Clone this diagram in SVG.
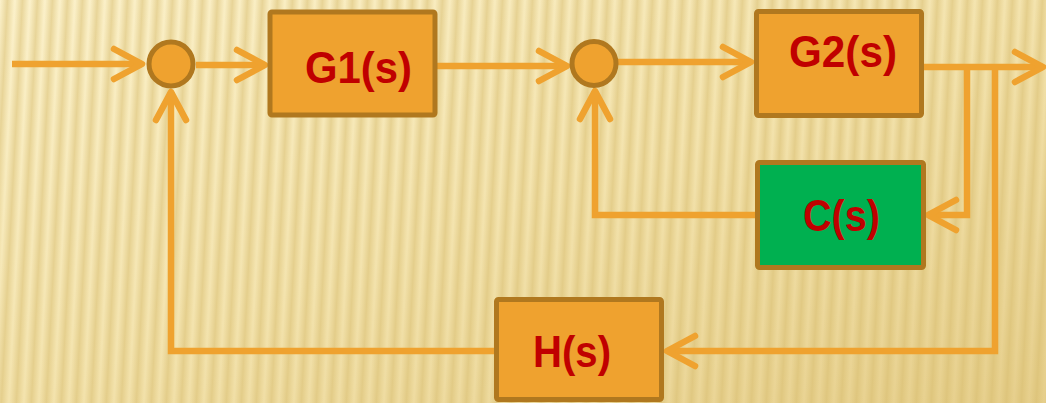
<svg xmlns="http://www.w3.org/2000/svg" width="1046" height="403" viewBox="0 0 1046 403">
  <defs>
    <linearGradient id="bg" x1="0" y1="0" x2="1" y2="1">
      <stop offset="0" stop-color="#FCF2CC"/>
      <stop offset="0.5" stop-color="#F4E4AF"/>
      <stop offset="1" stop-color="#E6CF8C"/>
    </linearGradient>
    <linearGradient id="stripeG" x1="0" y1="0" x2="1" y2="0">
      <stop offset="0" stop-color="#D6BA6A" stop-opacity="0"/>
      <stop offset="0.5" stop-color="#D6BA6A" stop-opacity="0.5"/>
      <stop offset="1" stop-color="#D6BA6A" stop-opacity="0"/>
    </linearGradient>
    <pattern id="stripes" patternUnits="userSpaceOnUse" width="15" height="403" patternTransform="skewX(-3)">
      <rect x="0" y="0" width="15" height="403" fill="url(#stripeG)"/>
    </pattern>
    <marker id="arr" markerUnits="userSpaceOnUse" viewBox="-40 -20 45 40" markerWidth="45" markerHeight="40" refX="0" refY="0" orient="auto" overflow="visible">
      <path d="M-28,-15 L0,0 L-28,15" fill="none" stroke="#EFA22F" stroke-width="6.5" stroke-linecap="round" stroke-linejoin="round"/>
    </marker>
    <style>
      .blk { fill: #EFA22F; stroke: #B0781F; stroke-width: 5; }
      .green { fill: #00B050; stroke: #B0781F; stroke-width: 5; }
      .sum { fill: #EFA22F; stroke: #B0781F; stroke-width: 5; }
      .lbl { font-family: "Liberation Sans", Arial, sans-serif; font-size: 44px; font-weight: bold; fill: #C00000; text-anchor: middle; }
      .wire { fill: none; stroke: #EFA22F; stroke-width: 6.5; stroke-linejoin: miter; stroke-linecap: butt; }
      .arrow { marker-end: url(#arr); }
    </style>
  </defs>

  <rect x="0" y="0" width="1046" height="403" fill="url(#bg)"/>
  <rect x="-30" y="0" width="1106" height="403" fill="url(#stripes)"/>

  <g id="connectors">
    <path class="wire arrow" d="M12,64 H142"/>
    <path class="wire arrow" d="M196,65 H265"/>
    <path class="wire arrow" d="M437,66 H567"/>
    <path class="wire arrow" d="M618,62 H751"/>
    <path class="wire arrow" d="M924,67 H1043"/>
    <path class="wire arrow" d="M967,67 V215 H928"/>
    <path class="wire arrow" d="M755,215 H595 V91"/>
    <path class="wire arrow" d="M995,67 V351 H667"/>
    <path class="wire arrow" d="M494,351 H171 V92"/>
  </g>

  <g id="sum1">
    <circle class="sum" cx="171" cy="64" r="22"/>
  </g>
  <g id="sum2">
    <circle class="sum" cx="594" cy="63.5" r="22"/>
  </g>

  <g id="G1">
    <rect class="blk" x="270" y="12" width="165" height="103" rx="2"/>
    <text class="lbl" x="358.5" y="83" textLength="107" lengthAdjust="spacingAndGlyphs">G1(s)</text>
  </g>
  <g id="G2">
    <rect class="blk" x="756.5" y="11.5" width="165" height="104" rx="2"/>
    <text class="lbl" x="843" y="67" textLength="108" lengthAdjust="spacingAndGlyphs">G2(s)</text>
  </g>
  <g id="C">
    <rect class="green" x="757.5" y="162.5" width="166" height="105" rx="2"/>
    <text class="lbl" x="841.5" y="231" textLength="77" lengthAdjust="spacingAndGlyphs">C(s)</text>
  </g>
  <g id="H">
    <rect class="blk" x="496.5" y="299.5" width="165" height="100" rx="2"/>
    <text class="lbl" x="572" y="367" textLength="78" lengthAdjust="spacingAndGlyphs">H(s)</text>
  </g>
</svg>
